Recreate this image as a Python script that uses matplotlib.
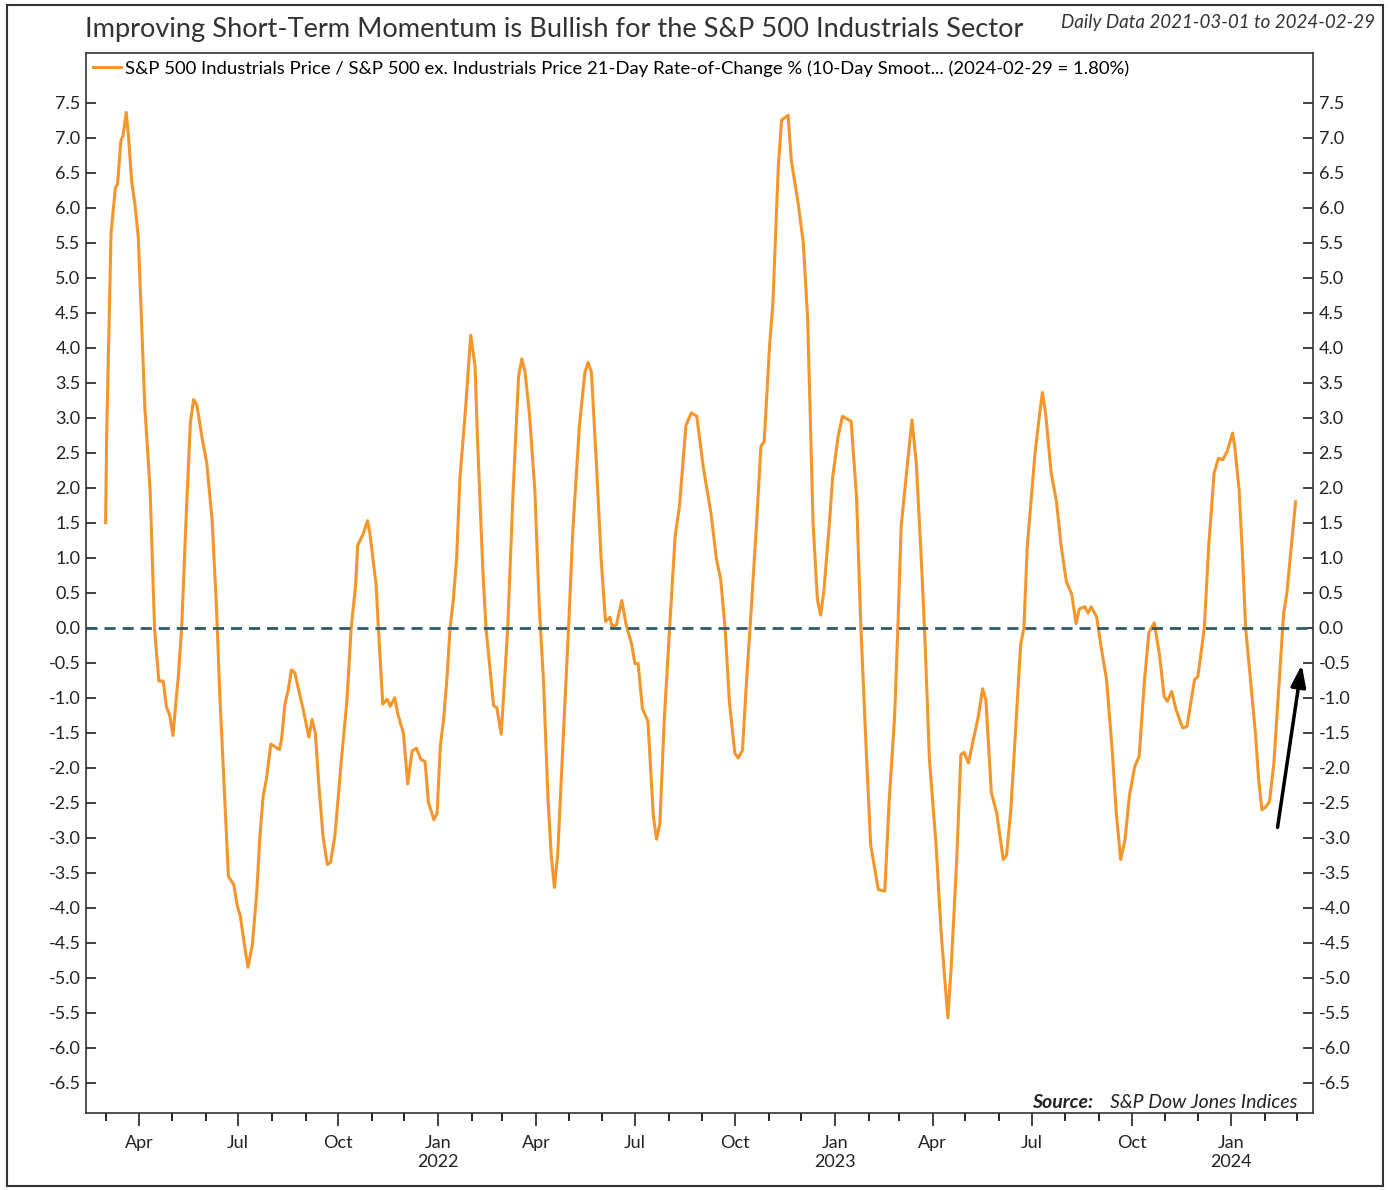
import numpy as np
import pandas as pd
import matplotlib
matplotlib.use("Agg")
import matplotlib.pyplot as plt
import matplotlib.dates as mdates
from matplotlib.ticker import FormatStrFormatter, FuncFormatter

plt.rcParams['font.family'] = ['Lato', 'DejaVu Sans']
plt.rcParams['axes.unicode_minus'] = False

# values (21-day ROC %, 10-day smoothed)
dates = [
    "2021-03-01", "2021-03-02", "2021-03-04", "2021-03-06", "2021-03-10", "2021-03-12",
    "2021-03-15", "2021-03-17", "2021-03-20", "2021-03-22", "2021-03-25", "2021-03-28",
    "2021-03-31", "2021-04-03", "2021-04-06", "2021-04-11", "2021-04-15", "2021-04-19",
    "2021-04-23", "2021-04-26", "2021-04-29", "2021-05-02", "2021-05-05", "2021-05-07",
    "2021-05-10", "2021-05-14", "2021-05-18", "2021-05-21", "2021-05-24", "2021-05-29",
    "2021-06-02", "2021-06-07", "2021-06-11", "2021-06-14", "2021-06-19", "2021-06-22",
    "2021-06-27", "2021-06-30", "2021-07-03", "2021-07-06", "2021-07-10", "2021-07-14",
    "2021-07-18", "2021-07-21", "2021-07-24", "2021-07-27", "2021-07-31", "2021-08-04",
    "2021-08-08", "2021-08-10", "2021-08-13", "2021-08-16", "2021-08-19", "2021-08-22",
    "2021-08-25", "2021-08-30", "2021-09-04", "2021-09-07", "2021-09-10", "2021-09-13",
    "2021-09-17", "2021-09-21", "2021-09-24", "2021-09-28", "2021-10-04", "2021-10-09",
    "2021-10-13", "2021-10-17", "2021-10-19", "2021-10-24", "2021-10-28", "2021-10-30",
    "2021-11-05", "2021-11-07", "2021-11-11", "2021-11-15", "2021-11-18", "2021-11-22",
    "2021-11-25", "2021-11-30", "2021-12-04", "2021-12-08", "2021-12-12", "2021-12-16",
    "2021-12-20", "2021-12-23", "2021-12-28", "2021-12-31", "2022-01-03", "2022-01-06",
    "2022-01-09", "2022-01-12", "2022-01-15", "2022-01-18", "2022-01-21", "2022-01-26",
    "2022-01-31", "2022-02-04", "2022-02-06", "2022-02-11", "2022-02-14", "2022-02-21",
    "2022-02-24", "2022-02-28", "2022-03-03", "2022-03-06", "2022-03-11", "2022-03-16",
    "2022-03-19", "2022-03-22", "2022-03-26", "2022-03-31", "2022-04-04", "2022-04-08",
    "2022-04-12", "2022-04-15", "2022-04-18", "2022-04-21", "2022-04-26", "2022-05-01",
    "2022-05-05", "2022-05-11", "2022-05-16", "2022-05-19", "2022-05-22", "2022-05-27",
    "2022-05-31", "2022-06-04", "2022-06-08", "2022-06-10", "2022-06-14", "2022-06-19",
    "2022-06-23", "2022-06-28", "2022-07-01", "2022-07-04", "2022-07-08", "2022-07-13",
    "2022-07-18", "2022-07-21", "2022-07-24", "2022-07-28", "2022-08-02", "2022-08-07",
    "2022-08-11", "2022-08-17", "2022-08-22", "2022-08-27", "2022-09-02", "2022-09-09",
    "2022-09-14", "2022-09-18", "2022-09-22", "2022-09-26", "2022-10-01", "2022-10-04",
    "2022-10-08", "2022-10-12", "2022-10-15", "2022-10-21", "2022-10-25", "2022-10-28",
    "2022-11-02", "2022-11-05", "2022-11-10", "2022-11-13", "2022-11-19", "2022-11-22",
    "2022-11-28", "2022-12-03", "2022-12-07", "2022-12-12", "2022-12-16", "2022-12-19",
    "2022-12-22", "2022-12-27", "2022-12-30", "2023-01-04", "2023-01-08", "2023-01-16",
    "2023-01-21", "2023-01-25", "2023-01-30", "2023-02-03", "2023-02-10", "2023-02-16",
    "2023-02-20", "2023-02-25", "2023-02-28", "2023-03-03", "2023-03-08", "2023-03-13",
    "2023-03-17", "2023-03-22", "2023-03-25", "2023-03-29", "2023-04-04", "2023-04-09",
    "2023-04-15", "2023-04-18", "2023-04-23", "2023-04-27", "2023-04-30", "2023-05-04",
    "2023-05-08", "2023-05-13", "2023-05-17", "2023-05-20", "2023-05-25", "2023-05-30",
    "2023-06-05", "2023-06-08", "2023-06-12", "2023-06-17", "2023-06-21", "2023-06-24",
    "2023-06-27", "2023-07-04", "2023-07-08", "2023-07-11", "2023-07-14", "2023-07-19",
    "2023-07-24", "2023-07-28", "2023-08-02", "2023-08-07", "2023-08-11", "2023-08-14",
    "2023-08-19", "2023-08-22", "2023-08-25", "2023-08-30", "2023-09-03", "2023-09-08",
    "2023-09-13", "2023-09-17", "2023-09-21", "2023-09-25", "2023-09-29", "2023-10-04",
    "2023-10-08", "2023-10-13", "2023-10-17", "2023-10-22", "2023-10-27", "2023-10-31",
    "2023-11-03", "2023-11-07", "2023-11-11", "2023-11-17", "2023-11-21", "2023-11-25",
    "2023-11-28", "2023-12-01", "2023-12-04", "2023-12-07", "2023-12-11", "2023-12-16",
    "2023-12-20", "2023-12-24", "2023-12-28", "2024-01-02", "2024-01-04", "2024-01-08",
    "2024-01-11", "2024-01-14", "2024-01-19", "2024-01-23", "2024-01-26", "2024-01-29",
    "2024-02-02", "2024-02-05", "2024-02-09", "2024-02-14", "2024-02-18", "2024-02-21",
    "2024-02-25", "2024-02-29",
]
roc = [
    1.50, 2.77, 4.24, 5.64, 6.29, 6.33,
    6.95, 7.03, 7.36, 7.03, 6.37, 6.05,
    5.59, 4.41, 3.18, 1.95, 0.00, -0.76,
    -0.76, -1.13, -1.25, -1.54, -1.01, -0.68,
    0.00, 1.54, 2.93, 3.26, 3.18, 2.69,
    2.36, 1.54, 0.30, -0.93, -2.57, -3.55,
    -3.67, -3.96, -4.12, -4.45, -4.85, -4.53,
    -3.80, -2.97, -2.40, -2.16, -1.66, -1.70,
    -1.74, -1.58, -1.09, -0.89, -0.60, -0.64,
    -0.84, -1.18, -1.56, -1.31, -1.50, -2.20,
    -2.97, -3.38, -3.35, -2.97, -1.88, -1.05,
    0.00, 0.60, 1.18, 1.34, 1.53, 1.37,
    0.60, 0.00, -1.09, -1.02, -1.12, -1.00,
    -1.24, -1.50, -2.23, -1.76, -1.72, -1.88,
    -1.91, -2.49, -2.74, -2.65, -1.69, -1.31,
    -0.74, 0.00, 0.41, 0.99, 2.13, 3.09,
    4.18, 3.73, 2.77, 0.86, 0.00, -1.11,
    -1.14, -1.52, -0.78, 0.00, 1.96, 3.59,
    3.84, 3.65, 3.05, 1.96, 0.31, -0.78,
    -2.42, -3.24, -3.71, -3.24, -1.60, 0.00,
    1.41, 2.89, 3.65, 3.79, 3.65, 2.23,
    0.97, 0.09, 0.15, 0.02, 0.04, 0.39,
    0.04, -0.23, -0.51, -0.51, -1.16, -1.33,
    -2.69, -3.02, -2.80, -1.33, 0.00, 1.30,
    1.73, 2.89, 3.07, 3.02, 2.29, 1.64,
    0.99, 0.69, 0.00, -1.06, -1.79, -1.86,
    -1.75, -0.70, 0.00, 1.49, 2.59, 2.66,
    4.04, 4.63, 6.59, 7.25, 7.32, 6.67,
    6.09, 5.50, 4.41, 1.49, 0.40, 0.18,
    0.54, 1.49, 2.15, 2.73, 3.02, 2.95,
    1.86, 0.00, -1.79, -3.10, -3.74, -3.76,
    -2.47, -1.27, 0.00, 1.44, 2.22, 2.97,
    2.34, 0.84, -0.19, -1.87, -3.07, -4.39,
    -5.57, -4.87, -3.37, -1.81, -1.78, -1.93,
    -1.63, -1.27, -0.87, -1.03, -2.35, -2.65,
    -3.31, -3.25, -2.59, -1.27, -0.24, 0.00,
    1.14, 2.46, 3.00, 3.36, 3.06, 2.22,
    1.80, 1.20, 0.66, 0.48, 0.06, 0.27,
    0.30, 0.21, 0.30, 0.15, -0.27, -0.74,
    -1.70, -2.65, -3.31, -3.03, -2.41, -1.98,
    -1.84, -0.74, -0.07, 0.07, -0.41, -0.98,
    -1.05, -0.91, -1.17, -1.43, -1.41, -1.03,
    -0.74, -0.70, -0.36, 0.00, 1.16, 2.21,
    2.42, 2.40, 2.52, 2.78, 2.59, 1.97,
    1.07, 0.00, -0.84, -1.50, -2.17, -2.60,
    -2.55, -2.48, -1.93, -0.74, 0.21, 0.50,
    1.16, 1.80,
]

series_label = ("S&P 500 Industrials Price / S&P 500 ex. Industrials Price 21-Day "
                "Rate-of-Change % (10-Day Smoot... (2024-02-29 = 1.80%)")

dt = pd.to_datetime(dates)

fig = plt.figure(figsize=(13.9, 11.9), dpi=100)
ax = fig.add_axes([0.0619, 0.0647, 0.8827, 0.8908])

ax.plot(dt, roc, color='#F5962A', lw=2.2, label=series_label, solid_joinstyle='round')
ax.axhline(0, color='#2C5A6B', lw=2.0, ls=(0, (4, 2.5)))

ax.set_xlim(pd.Timestamp("2021-02-11"), pd.Timestamp("2024-03-16"))
ax.set_ylim(-6.93, 8.21)

# y axis both sides, ticks inside
ax.set_yticks(np.arange(-6.5, 7.51, 0.5))
ax.yaxis.set_major_formatter(FormatStrFormatter('%.1f'))
ax.tick_params(axis='y', direction='in', length=7, width=1.2, left=True, right=True,
               labelleft=True, labelright=True, labelsize=13, pad=4, colors='#222222')

# x axis: quarterly labels, monthly minor ticks
ax.xaxis.set_major_locator(mdates.MonthLocator(bymonth=[1, 4, 7, 10]))
ax.xaxis.set_minor_locator(mdates.MonthLocator())

def qfmt(x, pos=None):
    d = mdates.num2date(x)
    if d.month == 1:
        return d.strftime('%b') + '\n' + str(d.year)
    return d.strftime('%b')

ax.xaxis.set_major_formatter(FuncFormatter(qfmt))
ax.tick_params(axis='x', which='major', direction='out', length=9, width=1.2,
               labelsize=13, pad=7, colors='#222222')
ax.tick_params(axis='x', which='minor', direction='out', length=6, width=1.2)

for s in ax.spines.values():
    s.set_linewidth(1.2)
    s.set_color('#333333')

ax.legend(loc='upper left', frameon=False, fontsize=13.3, handlelength=1.5,
          handletextpad=0.2, borderaxespad=0.15, borderpad=0.25)

# arrow pointing at the recent turn up
ax.annotate('', xy=(pd.Timestamp("2024-03-06"), -0.49),
            xytext=(pd.Timestamp("2024-02-12"), -2.89),
            arrowprops=dict(arrowstyle='-|>,head_width=0.45,head_length=1.3',
                            color='black', lw=2.5))

# titles and source
fig.text(0.061, 0.975, "Improving Short-Term Momentum is Bullish for the S&P 500 Industrials Sector",
         fontsize=19.6, color='#333333', ha='left', va='center')
fig.text(0.989, 0.981, "Daily Data 2021-03-01 to 2024-02-29", fontsize=13.5,
         style='italic', color='#333333', ha='right', va='center')
ax.text(0.987, 0.002, "S&P Dow Jones Indices", transform=ax.transAxes, fontsize=14,
        style='italic', color='#222222', ha='right', va='bottom')
ax.text(0.821, 0.002, "Source:", transform=ax.transAxes, fontsize=14,
        style='italic', weight='bold', color='#222222', ha='right', va='bottom')

# outer frame around whole picture
fig.patches.append(plt.Rectangle((0.005, 0.003), 0.990, 0.993, transform=fig.transFigure,
                                 fill=False, edgecolor='#333333', lw=1.5))

fig.savefig("out.png", dpi=100)
